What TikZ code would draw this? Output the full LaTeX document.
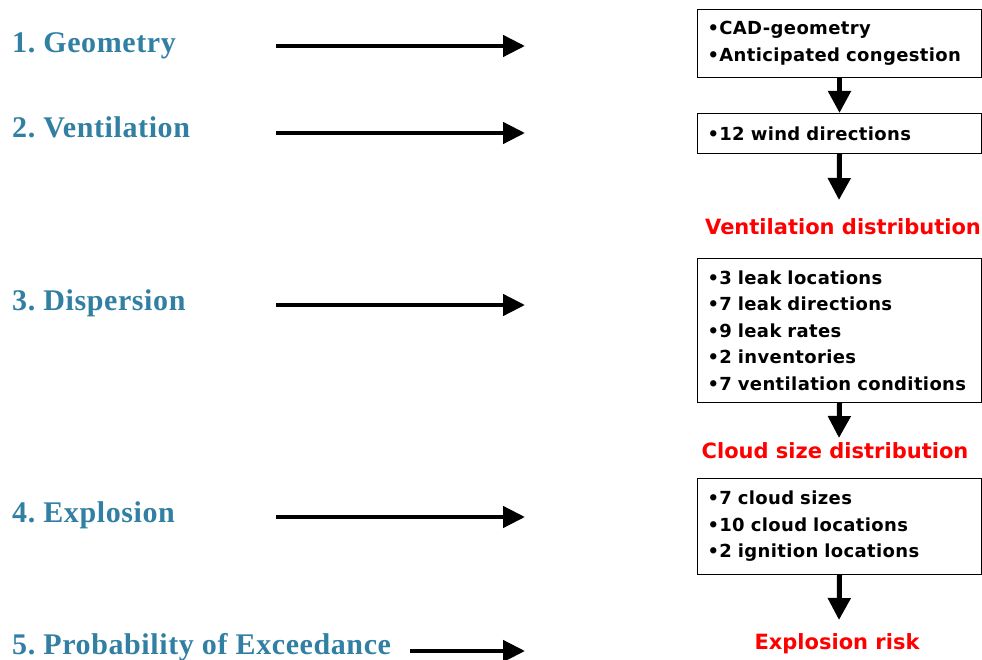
\documentclass[tikz,border=0pt]{standalone}
\usepackage{fontspec}
\newfontfamily\stepfont[LetterSpace=2]{Liberation Serif}
\newfontfamily\boxfont[LetterSpace=2]{DejaVu Sans}
\newfontfamily\resultfont{DejaVu Sans}
\frenchspacing
\usetikzlibrary{arrows.meta}
\definecolor{stepblue}{RGB}{49,127,163}
\definecolor{riskred}{RGB}{255,0,0}
\tikzset{
  steplabel/.style={anchor=base west, text=stepblue, inner sep=0pt,
    font=\stepfont\bfseries\fontsize{30}{34}\selectfont},
  infobox/.style={draw, line width=1pt, anchor=north west, align=left,
    inner xsep=10pt, inner ysep=0pt, text width=264pt,
    font=\boxfont\bfseries\fontsize{18}{26.5}\selectfont},
  resultlabel/.style={text=riskred, inner sep=0pt, anchor=base,
    font=\resultfont\bfseries\fontsize{21}{24}\selectfont},
  flowarrow/.style={line width=4.5pt, -{Triangle[length=22pt,width=21pt]}},
  downarrow/.style={line width=5pt, -{Triangle[length=22pt,width=22pt]}}
}
\begin{document}
\begin{tikzpicture}[x=1pt,y=-1pt]
\useasboundingbox (0,0) rectangle (982,660);

% left step labels
\node[steplabel] (s1) at (12,53) {1. Geometry};
\node[steplabel] (s2) at (12,138) {2. Ventilation};
\node[steplabel] (s3) at (12,310) {3. Dispersion};
\node[steplabel] (s4) at (12,522) {4. Explosion};
\node[steplabel] (s5) at (12,654) {5. Probability of Exceedance};

% arrow end points
\coordinate (h1a) at (276,46);  \coordinate (h1b) at (525,46);
\coordinate (h2a) at (276,133); \coordinate (h2b) at (525,133);
\coordinate (h3a) at (276,305); \coordinate (h3b) at (525,305);
\coordinate (h4a) at (276,517); \coordinate (h4b) at (525,517);
\coordinate (h5a) at (410,651); \coordinate (h5b) at (525,651);

\draw[flowarrow] (h1a) -- (h1b);
\draw[flowarrow] (h2a) -- (h2b);
\draw[flowarrow] (h3a) -- (h3b);
\draw[flowarrow] (h4a) -- (h4b);
\draw[flowarrow] (h5a) -- (h5b);

% right boxes
\node[infobox, minimum height=68pt] (b1) at (697,9)
  {•CAD-geometry\\•Anticipated congestion};
\node[infobox, minimum height=40pt] (b2) at (697,113)
  {•12 wind directions};
\node[infobox, minimum height=144pt] (b3) at (697,258)
  {•3 leak locations\\•7 leak directions\\•9 leak rates\\•2 inventories\\•7 ventilation conditions};
\node[infobox, minimum height=96pt] (b4) at (697,478)
  {•7 cloud sizes\\•10 cloud locations\\•2 ignition locations};

% result labels
\node[resultlabel] (vd) at (843,235) {Ventilation distribution};
\node[resultlabel] (cd) at (835,458) {Cloud size distribution};
\node[resultlabel] (er) at (837,649) {Explosion risk};

% arrow tips above the result labels
\coordinate (t2) at (839,200);
\coordinate (t3) at (839,438);
\coordinate (t4) at (839,620);

% vertical arrows
\draw[downarrow] (b1.south) -- (b2.north);
\draw[downarrow] (b2.south) -- (t2);
\draw[downarrow] (b3.south) -- (t3);
\draw[downarrow] (b4.south) -- (t4);
\end{tikzpicture}
\end{document}
